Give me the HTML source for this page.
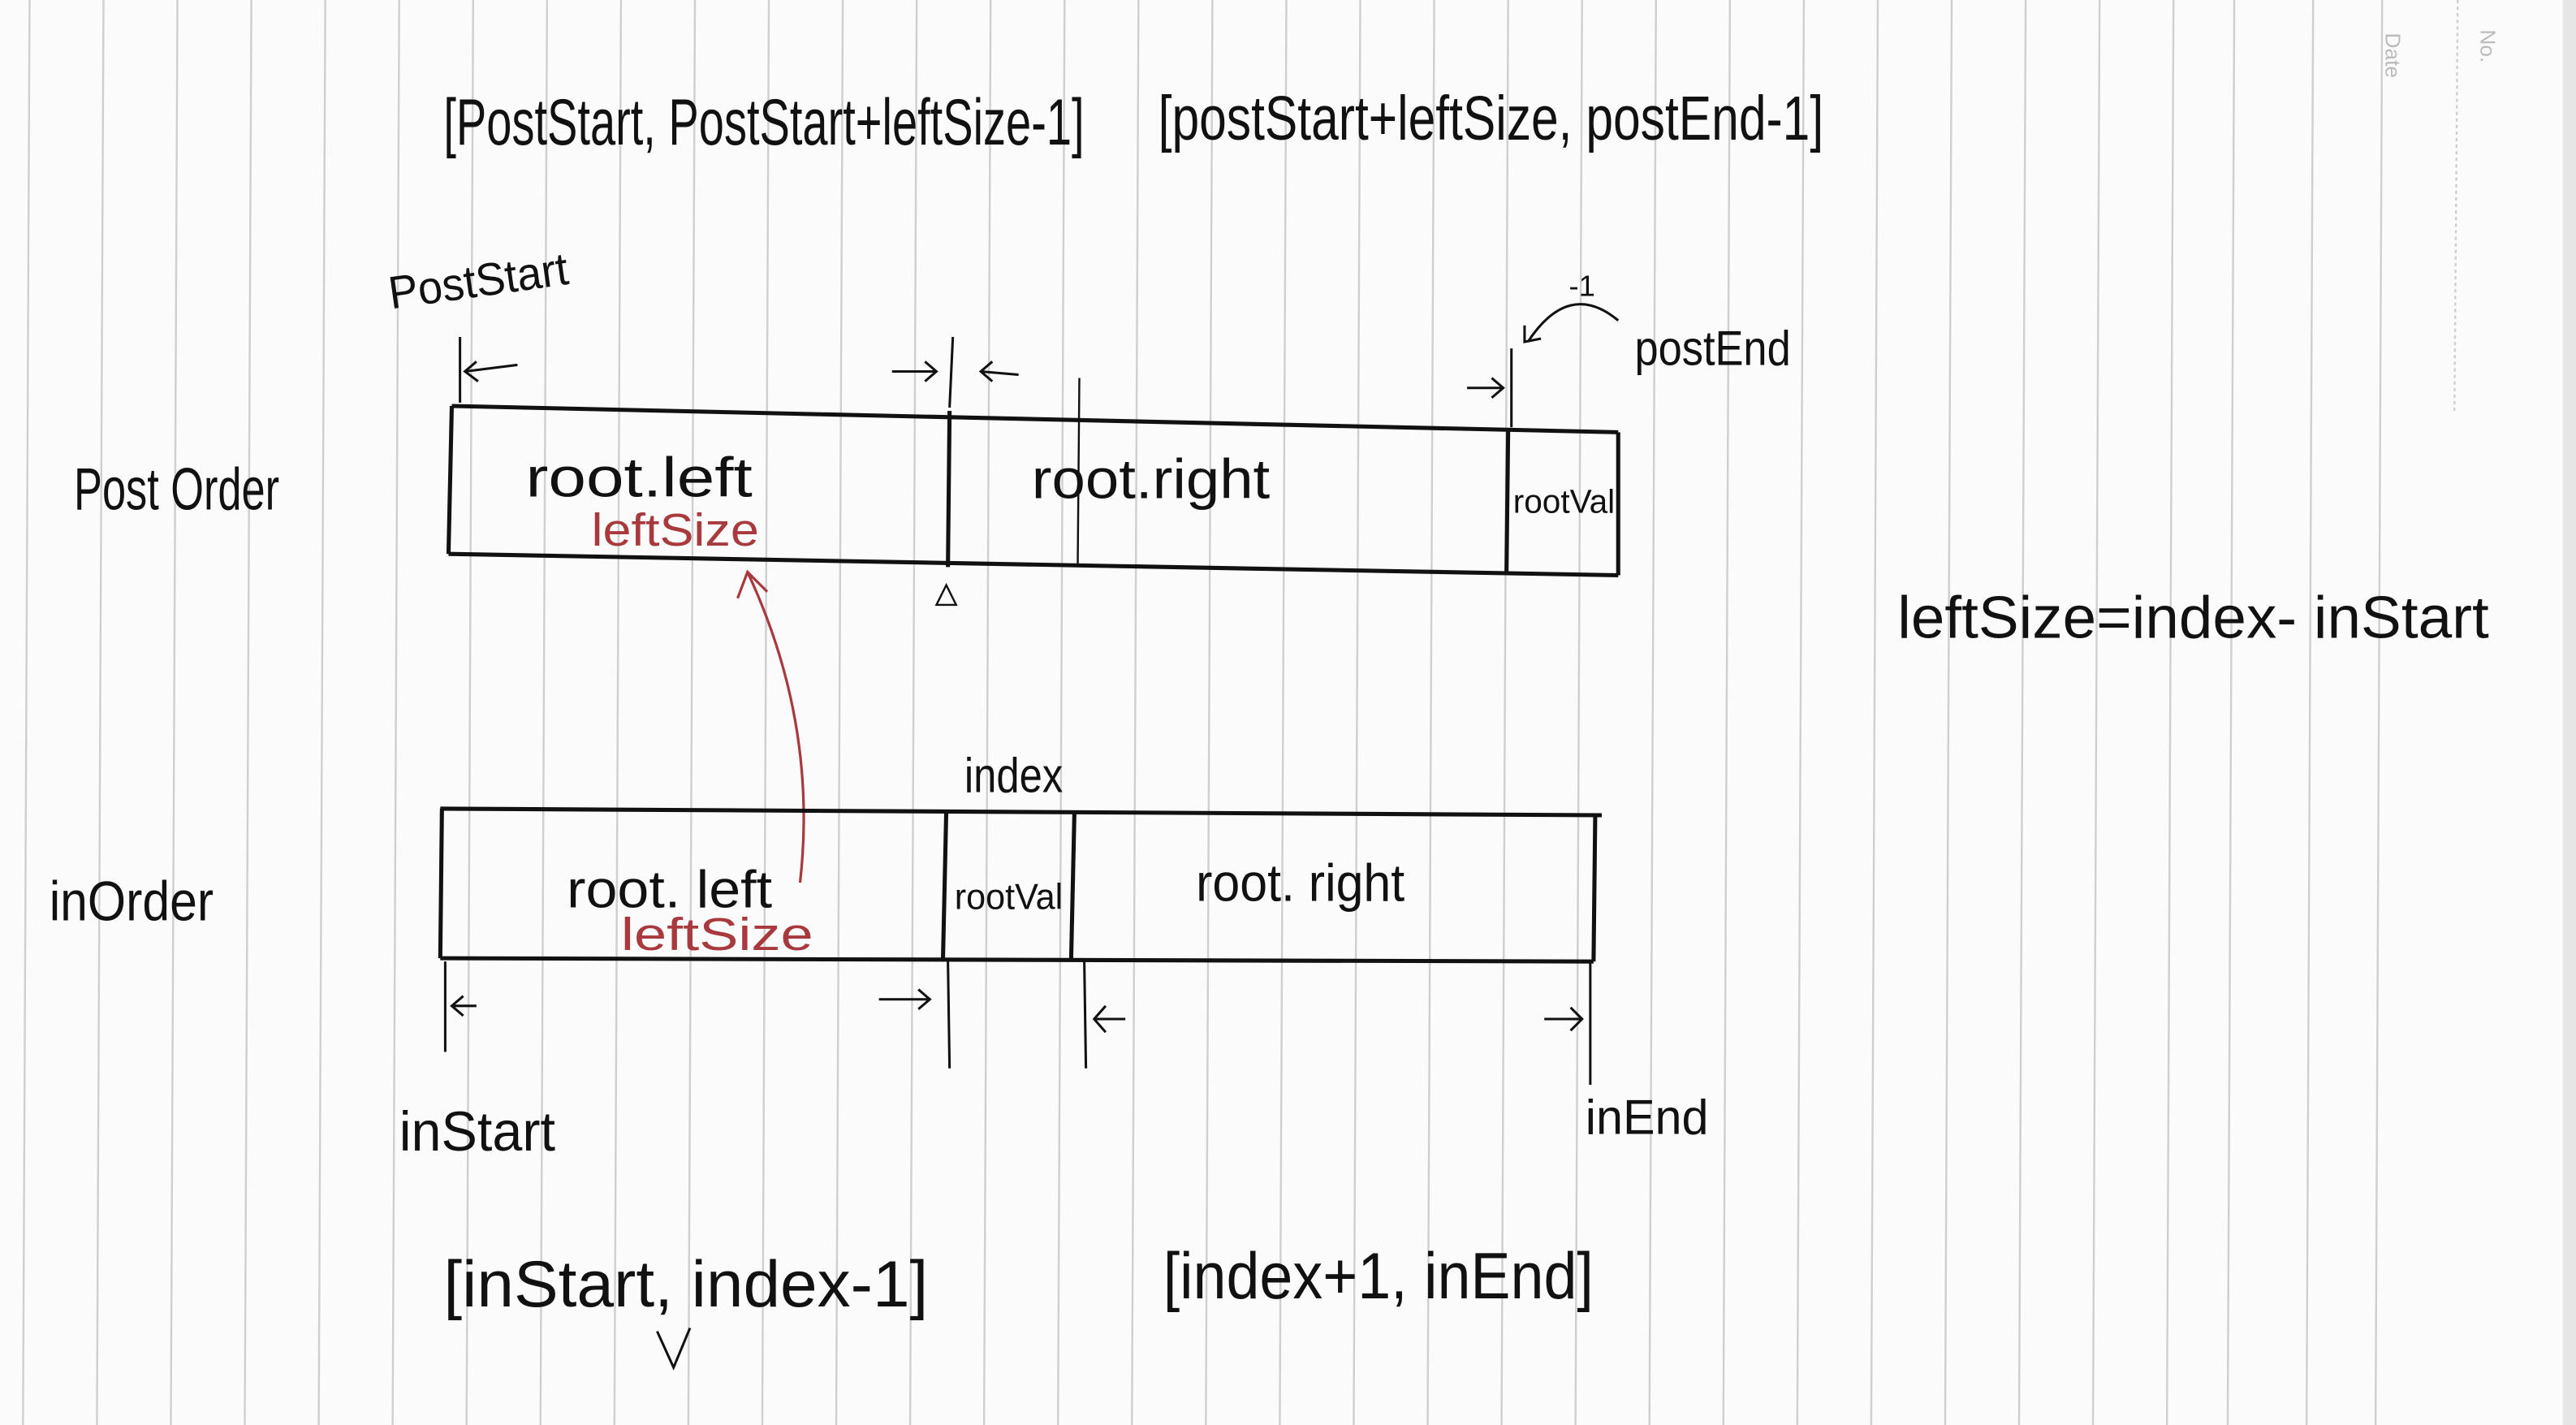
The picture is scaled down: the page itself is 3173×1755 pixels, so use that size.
<!DOCTYPE html>
<html><head><meta charset="utf-8"><style>
html,body{margin:0;padding:0;background:#fff;}
svg{display:block;}
text{font-family:"Liberation Sans",sans-serif;fill:#111;}
.r{fill:#a8393d;}
</style></head><body>
<svg width="3173" height="1755" viewBox="0 0 1568 867" preserveAspectRatio="none" xmlns="http://www.w3.org/2000/svg">
<rect width="1568" height="867" fill="#fbfbfb"/>
<g stroke="#cfcfcf" stroke-width="1.2">
<line x1="18" y1="0" x2="14" y2="867"/><line x1="63" y1="0" x2="59" y2="867"/><line x1="108" y1="0" x2="104" y2="867"/><line x1="153" y1="0" x2="149" y2="867"/><line x1="198" y1="0" x2="194" y2="867"/><line x1="243" y1="0" x2="239" y2="867"/><line x1="288" y1="0" x2="284" y2="867"/><line x1="333" y1="0" x2="329" y2="867"/><line x1="378" y1="0" x2="374" y2="867"/><line x1="423" y1="0" x2="419" y2="867"/><line x1="468" y1="0" x2="464" y2="867"/><line x1="513" y1="0" x2="509" y2="867"/><line x1="558" y1="0" x2="554" y2="867"/><line x1="603" y1="0" x2="599" y2="867"/><line x1="648" y1="0" x2="644" y2="867"/><line x1="693" y1="0" x2="689" y2="867"/><line x1="738" y1="0" x2="734" y2="867"/><line x1="783" y1="0" x2="779" y2="867"/><line x1="828" y1="0" x2="824" y2="867"/><line x1="873" y1="0" x2="869" y2="867"/><line x1="918" y1="0" x2="914" y2="867"/><line x1="963" y1="0" x2="959" y2="867"/><line x1="1008" y1="0" x2="1004" y2="867"/><line x1="1053" y1="0" x2="1049" y2="867"/><line x1="1098" y1="0" x2="1094" y2="867"/><line x1="1143" y1="0" x2="1139" y2="867"/><line x1="1188" y1="0" x2="1184" y2="867"/><line x1="1233" y1="0" x2="1229" y2="867"/><line x1="1278" y1="0" x2="1274" y2="867"/><line x1="1323" y1="0" x2="1319" y2="867"/><line x1="1360" y1="0" x2="1356" y2="867"/><line x1="1408" y1="0" x2="1404" y2="867"/><line x1="1450" y1="0" x2="1446" y2="867"/><line x1="1496" y1="0" x2="1494" y2="250" stroke-dasharray="2 2"/>
</g>
<rect x="1560" y="0" width="8" height="867" fill="#e6e6e6"/>
<text x="1452" y="20" font-size="13" fill="#bbb" style="fill:#bbb" transform="rotate(90 1452 20)">Date</text>
<text x="1510" y="18" font-size="13" style="fill:#bbb" transform="rotate(90 1510 18)">No.</text>

<!-- top labels -->
<text x="270" y="88" font-size="40" textLength="390" lengthAdjust="spacingAndGlyphs">[PostStart, PostStart+leftSize-1]</text>
<text x="705" y="85" font-size="38" textLength="405" lengthAdjust="spacingAndGlyphs">[postStart+leftSize, postEnd-1]</text>
<text x="238" y="188" font-size="28" textLength="110" lengthAdjust="spacingAndGlyphs" transform="rotate(-8 238 188)">PostStart</text>
<text x="995" y="222" font-size="30" textLength="95" lengthAdjust="spacingAndGlyphs">postEnd</text>
<text x="955" y="180" font-size="18">-1</text>
<path d="M930 208 Q955 170 985 195" fill="none" stroke="#111" stroke-width="1.5"/>
<path d="M928 198 L928 208 L938 206" fill="none" stroke="#111" stroke-width="1.5"/>

<!-- arrows above post box -->
<g stroke="#111" stroke-width="1.5" fill="none">
<line x1="280" y1="205" x2="280" y2="245"/><path d="M315 222 L283 226 M290 220 L283 226 L291 232"/>
<line x1="580" y1="205" x2="578" y2="248"/><path d="M543 226 L570 226 M563 220 L570 226 L563 232"/>
<path d="M620 228 L597 226 M604 220 L597 226 L604 232"/>
<line x1="920" y1="212" x2="920" y2="260"/><path d="M893 236 L915 236 M908 230 L915 236 L908 242"/>
</g>

<!-- post order box -->
<g stroke="#111" stroke-width="2.5" fill="none">
<path d="M275 247 L985 263"/><path d="M273 337 L985 350"/>
<path d="M275 247 L273 337"/><path d="M578 250 L577 345"/><path d="M918 262 L917 348"/><path d="M985 263 L985 350"/>
</g>
<line x1="657" y1="230" x2="656" y2="345" stroke="#111" stroke-width="1.2"/>
<path d="M570 368 L576 356 L582 368 Z" fill="none" stroke="#111" stroke-width="1.2"/>
<text x="45" y="310" font-size="36" textLength="125" lengthAdjust="spacingAndGlyphs">Post Order</text>
<text x="320" y="302" font-size="34" textLength="138" lengthAdjust="spacingAndGlyphs">root.left</text>
<text x="360" y="332" font-size="28" class="r" textLength="102" lengthAdjust="spacingAndGlyphs">leftSize</text>
<text x="628" y="303" font-size="34" textLength="145" lengthAdjust="spacingAndGlyphs">root.right</text>
<text x="921" y="312" font-size="20" textLength="62" lengthAdjust="spacingAndGlyphs">rootVal</text>

<text x="1155" y="388" font-size="36" textLength="360" lengthAdjust="spacingAndGlyphs">leftSize=index- inStart</text>

<!-- red arrow -->
<path d="M487 537 Q498 440 455 348" fill="none" stroke="#a8393d" stroke-width="1.6"/>
<path d="M449 364 L455 348 L467 360" fill="none" stroke="#a8393d" stroke-width="1.6"/>

<!-- in order box -->
<text x="587" y="482" font-size="30" textLength="60" lengthAdjust="spacingAndGlyphs">index</text>
<g stroke="#111" stroke-width="2.5" fill="none">
<path d="M268 492 L975 496"/><path d="M268 583 L970 585"/>
<path d="M269 492 L268 583"/><path d="M576 493 L574 583"/><path d="M654 494 L652 584"/><path d="M971 496 L970 585"/>
</g>
<text x="30" y="560" font-size="34" textLength="100" lengthAdjust="spacingAndGlyphs">inOrder</text>
<text x="345" y="552" font-size="32" textLength="125" lengthAdjust="spacingAndGlyphs">root. left</text>
<text x="378" y="578" font-size="28" class="r" textLength="117" lengthAdjust="spacingAndGlyphs">leftSize</text>
<text x="581" y="553" font-size="22" textLength="66" lengthAdjust="spacingAndGlyphs">rootVal</text>
<text x="728" y="548" font-size="32" textLength="127" lengthAdjust="spacingAndGlyphs">root. right</text>

<!-- arrows below in box -->
<g stroke="#111" stroke-width="1.5" fill="none">
<line x1="271" y1="585" x2="271" y2="640"/><path d="M290 612 L275 612 M282 606 L275 612 L282 618"/>
<line x1="577" y1="585" x2="578" y2="650"/><path d="M535 608 L566 608 M559 602 L566 608 L559 614"/>
<line x1="660" y1="585" x2="661" y2="650"/><path d="M685 620 L666 620 M673 612 L666 620 L673 628"/>
<line x1="968" y1="585" x2="968" y2="660"/><path d="M940 620 L963 620 M956 613 L963 620 L956 627"/>
</g>
<text x="243" y="700" font-size="34" textLength="95" lengthAdjust="spacingAndGlyphs">inStart</text>
<text x="965" y="690" font-size="30" textLength="75" lengthAdjust="spacingAndGlyphs">inEnd</text>
<text x="270" y="795" font-size="40" textLength="295" lengthAdjust="spacingAndGlyphs">[inStart, index-1]</text>
<text x="708" y="790" font-size="40" textLength="262" lengthAdjust="spacingAndGlyphs">[index+1, inEnd]</text>
<path d="M400 810 L410 832 L420 808" fill="none" stroke="#111" stroke-width="1.5"/>
</svg>
</body></html>
